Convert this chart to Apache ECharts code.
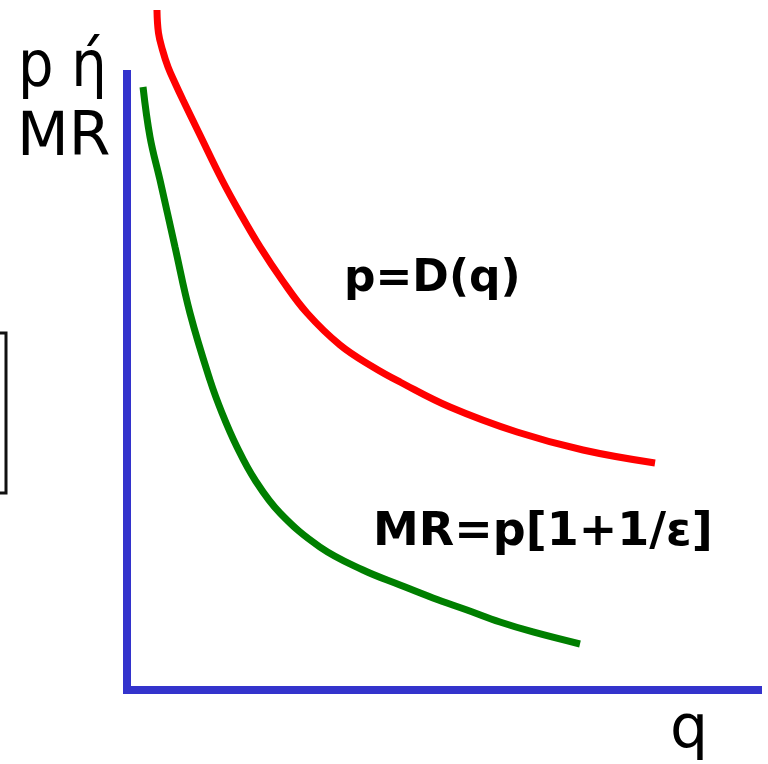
<!DOCTYPE html>
<html>
<head>
<meta charset="utf-8">
<script src="https://cdn.jsdelivr.net/npm/echarts@6/dist/echarts.min.js"></script>
<style>
  html, body { margin: 0; padding: 0; background: #ffffff; }
  #chart { width: 768px; height: 764px; }
</style>
</head>
<body>
<div id="chart"></div>
<script>
// Demand curve p = D(q): quantity / price pairs
const demandQ = [0.475, 0.499, 0.563, 0.650, 0.761, 0.887, 1.141, 1.506, 1.791, 2.108, 2.457, 2.853, 3.376, 3.899, 4.327, 5.119, 6.181, 7.227, 8.368];
const demandP = [11.039, 10.666, 10.390, 10.114, 9.854, 9.578, 9.042, 8.279, 7.744, 7.192, 6.656, 6.120, 5.601, 5.244, 5.000, 4.594, 4.188, 3.896, 3.685];

// Marginal revenue curve MR = p[1 + 1/ε]
const mrQ = [0.254, 0.365, 0.523, 0.761, 0.998, 1.315, 1.506, 1.743, 2.029, 2.425, 3.059, 3.740, 4.326, 4.849, 5.388, 5.911, 6.434, 7.179];
const mrV = [9.789, 8.977, 8.279, 7.192, 6.120, 5.032, 4.497, 3.945, 3.409, 2.873, 2.321, 1.948, 1.705, 1.494, 1.299, 1.104, 0.942, 0.747];

// Text labels
const yAxisLabel = ['p ή', 'MR'];
const xAxisLabel = 'q';
const demandLabel = 'p=D(q)';
const mrLabel = 'MR=p[1+1/ε]';

const zip = (a, b) => a.map((v, i) => [v, b[i]]);

const chart = echarts.init(document.getElementById('chart'), null, { renderer: 'canvas' });

const axisBlue = '#3333cc';
const regular = '"DejaVu Sans", Verdana, sans-serif';

chart.setOption({
  animation: false,
  backgroundColor: '#ffffff',
  grid: { left: 127, right: 10, top: 74, bottom: 74 },
  xAxis: {
    type: 'value', min: 0, max: 10,
    axisLine: { show: true, lineStyle: { color: axisBlue, width: 8, cap: 'square' } },
    axisTick: { show: false }, axisLabel: { show: false }, splitLine: { show: false }
  },
  yAxis: {
    type: 'value', min: 0, max: 10,
    axisLine: { show: true, lineStyle: { color: axisBlue, width: 8, cap: 'square' } },
    axisTick: { show: false }, axisLabel: { show: false }, splitLine: { show: false }
  },
  series: [
    {
      name: demandLabel, type: 'line', data: zip(demandQ, demandP),
      smooth: 0.4, showSymbol: false, clip: false,
      lineStyle: { color: '#ff0000', width: 7 }
    },
    {
      name: mrLabel, type: 'line', data: zip(mrQ, mrV),
      smooth: 0.4, showSymbol: false, clip: false,
      lineStyle: { color: '#007f00', width: 7 }
    }
  ],
  graphic: [
    { type: 'rect', shape: { x: -10, y: 333, width: 16, height: 160 },
      style: { fill: '#ffffff', stroke: '#111111', lineWidth: 3 } },
    { type: 'text', x: 18, y: 37, scaleY: 1.15,
      style: { text: yAxisLabel[0], font: '56px ' + regular, fill: '#000000' } },
    { type: 'text', left: 17, top: 109,
      style: { text: yAxisLabel[1], font: '60px ' + regular, fill: '#000000' } },
    { type: 'text', left: 670, top: 701,
      style: { text: xAxisLabel, font: '60px ' + regular, fill: '#000000' } },
    { type: 'text', left: 344, top: 258,
      style: { text: demandLabel, font: 'bold 44px ' + regular, fill: '#000000' } },
    { type: 'text', left: 373, top: 510,
      style: { text: mrLabel, font: 'bold 46px ' + regular, fill: '#000000' } }
  ]
});
</script>
</body>
</html>
